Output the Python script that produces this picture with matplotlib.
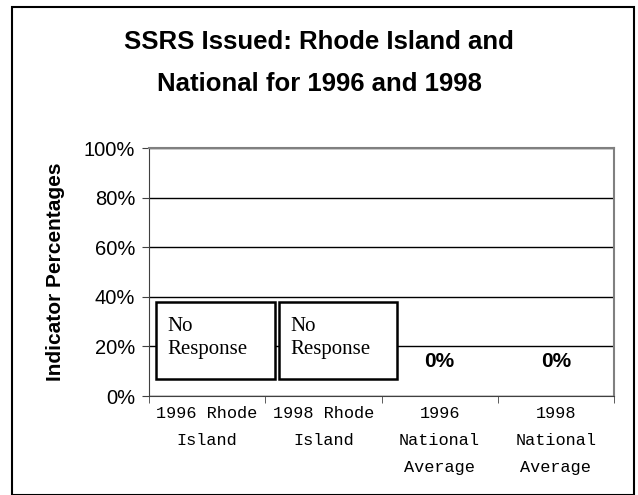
import matplotlib.pyplot as plt
import numpy as np
from matplotlib.patches import Rectangle
from matplotlib.ticker import FuncFormatter, MultipleLocator

categories = ["1996 Rhode\nIsland", "1998 Rhode\nIsland", "1996\nNational\nAverage", "1998\nNational\nAverage"]
values = [np.nan, np.nan, 0.0, 0.0]  # nan = no response
labels = ["No\nResponse", "No\nResponse", "0%", "0%"]

plt.rcParams['font.family'] = ['Liberation Sans', 'DejaVu Sans']

fig = plt.figure(figsize=(6.38, 4.95), dpi=100)
ax = fig.add_axes([149 / 638, 1 - 396 / 495, (614 - 149) / 638, (396 - 148) / 495])

# outer chart frame
fig.patches.append(Rectangle((12 / 638, 0.0), 622 / 638, 1 - 7 / 495, transform=fig.transFigure,
                             fill=False, edgecolor="black", linewidth=1.5))

x = np.arange(len(categories))
ax.bar(x, np.nan_to_num(values), width=0.6, color="white", edgecolor="none")

for i, (v, lab) in enumerate(zip(values, labels)):
    if np.isnan(v):
        left = -0.44 + i * 1.055
        ax.add_patch(Rectangle((left, 6.9), 1.02, 31.0, facecolor="white", edgecolor="black",
                               linewidth=1.8, zorder=4))
        ax.text(left + 0.1, 23.4, lab, family="Liberation Serif", fontsize=15, va="center",
                ha="left", linespacing=1.3, zorder=5)
    else:
        ax.text(i, 14, lab, fontsize=15, fontweight="bold", ha="center", va="center")

ax.set_xlim(-0.5, len(categories) - 0.5)
ax.set_ylim(0, 100)
ax.yaxis.set_major_locator(MultipleLocator(20))
ax.yaxis.set_major_formatter(FuncFormatter(lambda v, p: f"{v:.0f}%"))
ax.grid(axis="y", color="black", linewidth=1)
ax.set_axisbelow(True)

ax.set_xticks(x)
ax.set_xticklabels(categories, family="Liberation Mono", fontsize=12.2, linespacing=2.0, va="top")
ax.set_xticks(np.arange(-0.5, len(categories)), minor=True)
ax.tick_params(axis="x", which="major", length=0, pad=7)
ax.tick_params(axis="x", which="minor", length=5, color="#404040")
ax.tick_params(axis="y", labelsize=14.5, length=5, color="#404040", pad=5)

for s in ["top", "right"]:
    ax.spines[s].set_color("#808080")
    ax.spines[s].set_linewidth(1.5)
ax.spines["left"].set_color("#404040")
ax.spines["bottom"].set_color("#404040")

ax.set_ylabel("Indicator Percentages", fontsize=15, fontweight="bold")
ax.yaxis.set_label_coords(-0.18, 0.5)
fig.text(0.5, 1 - 63 / 495, "SSRS Issued: Rhode Island and\nNational for 1996 and 1998",
         ha="center", va="center", fontsize=18.5, fontweight="bold", linespacing=1.9)

fig.savefig("out.png", dpi=100)
